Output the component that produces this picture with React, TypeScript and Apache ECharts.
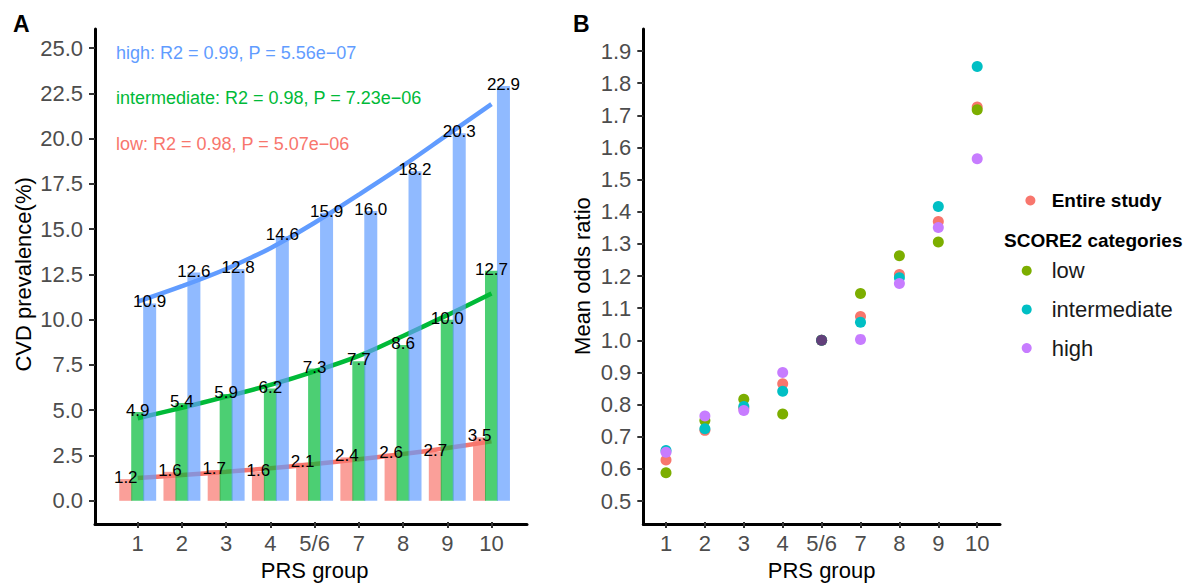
import React, { useEffect, useRef } from 'react';
import * as echarts from 'echarts';

const FONT = '"Liberation Sans", Arial, Helvetica, sans-serif';

// ---------- Panel A data ----------
const prsGroups = ['1', '2', '3', '4', '5/6', '7', '8', '9', '10'];
const lowPrev = [1.2, 1.6, 1.7, 1.6, 2.1, 2.4, 2.6, 2.7, 3.5];
const intermediatePrev = [4.9, 5.4, 5.9, 6.2, 7.3, 7.7, 8.6, 10.0, 12.7];
const highPrev = [10.9, 12.6, 12.8, 14.6, 15.9, 16.0, 18.2, 20.3, 22.9];
// fitted curves
const lowFit = [1.26, 1.42, 1.6, 1.8, 2.03, 2.29, 2.58, 2.91, 3.28];
const intermediateFit = [4.56, 5.14, 5.75, 6.4, 7.15, 8.0, 9.1, 10.25, 11.45];
const highFit = [11.0, 11.85, 12.8, 13.95, 15.35, 16.9, 18.5, 20.2, 21.9];
const fitLabels = [
  'high: R2 = 0.99, P = 5.56e\u221207',
  'intermediate: R2 = 0.98, P = 7.23e\u221206',
  'low: R2 = 0.98, P = 5.07e\u221206',
];
const prevMin = 0;
const prevMax = 25;
const prevInterval = 2.5;

// ---------- Panel B data ----------
const orEntire = [0.628, 0.72, 0.789, 0.865, 1.0, 1.074, 1.205, 1.37, 1.726];
const orLow = [0.588, 0.751, 0.817, 0.771, 1.0, 1.146, 1.263, 1.306, 1.717];
const orIntermediate = [0.657, 0.725, 0.794, 0.842, 1.0, 1.056, 1.195, 1.416, 1.852];
const orHigh = [0.652, 0.765, 0.782, 0.9, 1.0, 1.003, 1.177, 1.351, 1.565];
const orMin = 0.5;
const orMax = 1.9;
const orInterval = 0.1;

const RED = '#F8766D';
const GREEN = '#00BA38';
const BLUE = '#619CFF';
const C_LOW = '#7CAE00';
const C_INT = '#00BFC4';
const C_HIGH = '#C77CFF';

const tickStyle = { show: true, length: 6, lineStyle: { color: '#333333', width: 2 } };
const labelStyle = { fontSize: 22, color: '#4D4D4D', fontFamily: FONT };
const nameStyle = { fontSize: 22, color: '#000', fontFamily: FONT };

function frameAxis(gridIndex: number) {
  return {
    gridIndex,
    type: 'value',
    min: 0,
    max: 1,
    axisLine: { show: true, onZero: false, lineStyle: { color: '#000', width: 3 } },
    axisTick: { show: false },
    axisLabel: { show: false },
    splitLine: { show: false },
  };
}

export default function App() {
  const ref = useRef<HTMLDivElement>(null);
  useEffect(() => {
    if (!ref.current) return;
    const chart = echarts.init(ref.current, null, { renderer: 'svg' });

    const barLabel = {
      show: true,
      position: 'top',
      distance: -7,
      fontSize: 17,
      color: '#000',
      fontFamily: FONT,
      formatter: (p: any) => Number(p.value).toFixed(1),
    };

    const lineSeries = (name: string, data: number[], color: string) => ({
      name,
      type: 'line',
      xAxisIndex: 1,
      yAxisIndex: 1,
      data,
      smooth: 0.35,
      showSymbol: false,
      symbol: 'none',
      lineStyle: { color, width: 4.5 },
      z: 1,
      silent: true,
    });

    const barSeries = (name: string, data: number[], color: string) => ({
      name,
      type: 'bar',
      xAxisIndex: 1,
      yAxisIndex: 1,
      data,
      barWidth: 13,
      barGap: '-8%',
      itemStyle: { color },
      label: barLabel,
      z: 2,
      silent: true,
    });

    const scatter = (name: string, data: number[], color: string, special?: any) => ({
      name,
      type: 'scatter',
      xAxisIndex: 3,
      yAxisIndex: 3,
      symbolSize: 11,
      itemStyle: { color, opacity: 1 },
      data: data.map((v, i) =>
        special && special[i] ? { value: [i, v], itemStyle: special[i] } : [i, v]
      ),
      silent: true,
    });

    const option: any = {
      animation: false,
      textStyle: { fontFamily: FONT },
      grid: [
        { left: 95, top: 29, width: 432, height: 495.3, containLabel: false },
        { left: 115.6, top: 48, width: 398, height: 455, containLabel: false },
        { left: 643.3, top: 29, width: 356.7, height: 495.3, containLabel: false },
        { left: 646.55, top: 51, width: 350.1, height: 452.3, containLabel: false },
      ],
      xAxis: [
        frameAxis(0),
        {
          gridIndex: 1,
          type: 'category',
          data: prsGroups,
          offset: 21.3,
          axisLine: { show: false, onZero: false },
          axisTick: { ...tickStyle, alignWithLabel: true, interval: 0 },
          axisLabel: { ...labelStyle, margin: 10, interval: 0 },
          name: 'PRS group',
          nameLocation: 'middle',
          nameGap: 36,
          nameTextStyle: nameStyle,
        },
        frameAxis(2),
        {
          gridIndex: 3,
          type: 'category',
          data: prsGroups,
          offset: 21,
          axisLine: { show: false, onZero: false },
          axisTick: { ...tickStyle, alignWithLabel: true, interval: 0 },
          axisLabel: { ...labelStyle, margin: 10, interval: 0, hideOverlap: false },
          name: 'PRS group',
          nameLocation: 'middle',
          nameGap: 36,
          nameTextStyle: nameStyle,
        },
      ],
      yAxis: [
        frameAxis(0),
        {
          gridIndex: 1,
          type: 'value',
          min: prevMin,
          max: prevMax,
          interval: prevInterval,
          offset: 20.6,
          axisLine: { show: false, onZero: false },
          axisTick: tickStyle,
          axisLabel: { ...labelStyle, margin: 12, formatter: (v: number) => v.toFixed(1) },
          splitLine: { show: false },
          name: 'CVD prevalence(%)',
          nameLocation: 'middle',
          nameGap: 61,
          nameTextStyle: nameStyle,
        },
        frameAxis(2),
        {
          gridIndex: 3,
          type: 'value',
          min: orMin,
          max: orMax,
          interval: orInterval,
          offset: 3.25,
          axisLine: { show: false, onZero: false },
          axisTick: tickStyle,
          axisLabel: { ...labelStyle, margin: 12, formatter: (v: number) => v.toFixed(1) },
          splitLine: { show: false },
          name: 'Mean odds ratio',
          nameLocation: 'middle',
          nameGap: 50,
          nameTextStyle: nameStyle,
        },
      ],
      legend: [
        {
          data: ['Entire study'],
          orient: 'vertical',
          left: 1025.4,
          top: 191,
          padding: 0,
          icon: 'circle',
          itemWidth: 32.6,
          itemHeight: 10,
          selectedMode: false,
          textStyle: { fontSize: 19, fontWeight: 'bold', color: '#000', fontFamily: FONT },
        },
        {
          data: ['low', 'intermediate', 'high'],
          orient: 'vertical',
          left: 1021.7,
          top: 259.7,
          padding: 0,
          icon: 'circle',
          itemWidth: 40,
          itemHeight: 10,
          itemGap: 16.7,
          selectedMode: false,
          textStyle: { fontSize: 22, color: '#1A1A1A', fontFamily: FONT },
        },
      ],
      graphic: [
        { type: 'text', x: 13, y: 23.5, style: { text: 'A', fill: '#000', fontSize: 23, fontWeight: 'bold', fontFamily: FONT, verticalAlign: 'middle' } },
        { type: 'text', x: 573, y: 23.5, style: { text: 'B', fill: '#000', fontSize: 23, fontWeight: 'bold', fontFamily: FONT, verticalAlign: 'middle' } },
        { type: 'text', x: 1004, y: 240, style: { text: 'SCORE2 categories', fill: '#000', fontSize: 19, fontWeight: 'bold', fontFamily: FONT, verticalAlign: 'middle' } },
        { type: 'text', x: 116, y: 52.5, style: { text: fitLabels[0], fill: BLUE, fontSize: 18, fontFamily: FONT, verticalAlign: 'middle' } },
        { type: 'text', x: 116, y: 98, style: { text: fitLabels[1], fill: GREEN, fontSize: 18, fontFamily: FONT, verticalAlign: 'middle' } },
        { type: 'text', x: 116, y: 143.5, style: { text: fitLabels[2], fill: RED, fontSize: 18, fontFamily: FONT, verticalAlign: 'middle' } },
      ],
      series: [
        lineSeries('A-low-fit', lowFit, RED),
        lineSeries('A-intermediate-fit', intermediateFit, GREEN),
        lineSeries('A-high-fit', highFit, BLUE),
        barSeries('A-low', lowPrev, 'rgba(248,118,109,0.7)'),
        barSeries('A-intermediate', intermediatePrev, 'rgba(0,186,56,0.7)'),
        barSeries('A-high', highPrev, 'rgba(97,156,255,0.7)'),
        scatter('Entire study', orEntire, RED),
        scatter('low', orLow, C_LOW),
        scatter('intermediate', orIntermediate, C_INT),
        scatter('high', orHigh, C_HIGH, { 4: { color: '#62407A' } }),
      ],
    };

    chart.setOption(option);
    return () => {
      chart.dispose();
    };
  }, []);

  return (
    <div
      ref={ref}
      style={{ position: 'fixed', left: 0, top: 0, width: 1192, height: 586, background: '#fff' }}
    />
  );
}
